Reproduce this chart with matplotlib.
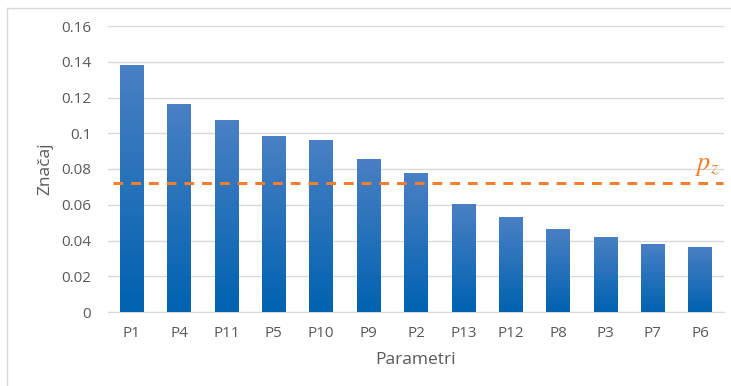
import matplotlib.pyplot as plt
import numpy as np
from matplotlib.lines import Line2D

params = ['P1', 'P4', 'P11', 'P5', 'P10', 'P9', 'P2', 'P13', 'P12', 'P8', 'P3', 'P7', 'P6']
znacaj = [0.138, 0.1165, 0.1075, 0.0985, 0.0965, 0.0855, 0.0775, 0.0605, 0.053, 0.0465, 0.042, 0.038, 0.0365]
p_z = 0.072
yticks = [0, 0.02, 0.04, 0.06, 0.08, 0.1, 0.12, 0.14, 0.16]
ytick_labels = ['0', '0.02', '0.04', '0.06', '0.08', '0.1', '0.12', '0.14', '0.16']

plt.rcParams['font.family'] = ['Open Sans', 'DejaVu Sans']
plt.rcParams['mathtext.fontset'] = 'stix'
txt = '#595959'

fig = plt.figure(figsize=(7.31, 3.86), dpi=100)
ax = fig.add_axes([108 / 731, 1 - 312 / 386, 616 / 731, 286 / 386])

x = np.arange(len(params))
bars = ax.bar(x, znacaj, width=0.5, color='none', zorder=3)

# vertical gradient fill for every bar
grad = np.linspace(0, 1, 256).reshape(-1, 1)
cmap = plt.matplotlib.colors.LinearSegmentedColormap.from_list('bl', ['#0062b0', '#4a80c4'])
for b in bars:
    bx, bw, bh = b.get_x(), b.get_width(), b.get_height()
    im = ax.imshow(grad, cmap=cmap, origin='lower', aspect='auto',
                   extent=[bx, bx + bw, 0, bh], zorder=3)
    im.set_clip_path(b)

ax.axhline(p_z, color='#f07f30', lw=2.2, ls=(0, (3.2, 2.6)), zorder=4,
           xmin=0.008, xmax=0.998)
ax.text(12.4, p_z + 0.003, r'$p_z$', color='#f07f30', fontsize=19,
        ha='right', va='bottom')

ax.set_xlim(-0.5, len(params) - 0.5)
ax.set_ylim(0, 0.16)
ax.set_yticks(yticks)
ax.set_yticklabels(ytick_labels)
ax.set_xticks(x)
ax.set_xticklabels(params)
ax.grid(axis='y', color='#d9d9d9', lw=1, zorder=0)
for s in ['top', 'right', 'left']:
    ax.spines[s].set_visible(False)
ax.spines['bottom'].set_color('#d9d9d9')
ax.tick_params(length=0, colors=txt, labelsize=11)
ax.tick_params(axis='y', pad=12)
ax.tick_params(axis='x', pad=10)
ax.set_xlabel('Parametri', color=txt, fontsize=12.5, labelpad=8)
ax.set_ylabel('Značaj', color=txt, fontsize=12.5, labelpad=6)

# chart frame
fig.add_artist(Line2D([7 / 731, 7 / 731], [0, 1 - 8 / 386], color='#d9d9d9', lw=1))
fig.add_artist(Line2D([7 / 731, 1], [1 - 8 / 386, 1 - 8 / 386], color='#d9d9d9', lw=1))

fig.savefig('out.png', dpi=100)
